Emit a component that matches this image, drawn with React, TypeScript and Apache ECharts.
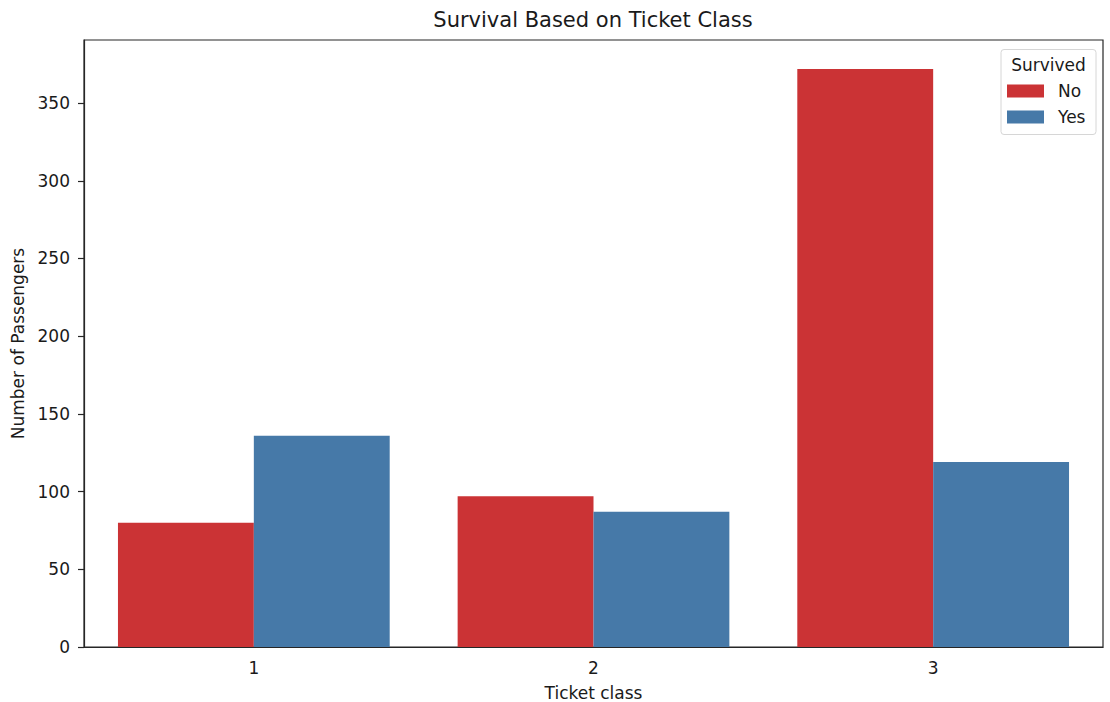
import React, { useEffect, useRef } from "react";
import * as echarts from "echarts";

const categories = ["1", "2", "3"];
const noValues = [80, 97, 372];
const yesValues = [136, 87, 119];
const seriesNames = ["No", "Yes"];
const legendTitle = "Survived";

export default function App() {
  const ref = useRef<HTMLDivElement>(null);
  useEffect(() => {
    const chart = echarts.init(ref.current!, null, { renderer: "svg" });
    const font = "DejaVu Sans";
    const fs = 17;
    chart.setOption({
      animation: false,
      backgroundColor: "#ffffff",
      title: {
        text: "Survival Based on Ticket Class",
        left: 593,
        textAlign: "center",
        top: 9,
        padding: 0,
        textStyle: { fontFamily: font, fontSize: 21, fontWeight: "normal", color: "#1a1a1a" },
      },
      grid: {
        left: 84,
        right: 7,
        top: 40,
        bottom: 55,
        outerBoundsMode: "none",
        containLabel: false,
        show: true,
        borderColor: "#262626",
        borderWidth: 1.2,
        backgroundColor: "transparent",
      },
      legend: {
        orient: "vertical",
        left: 1007,
        top: 82,
        padding: 0,
        itemWidth: 37,
        itemHeight: 13,
        itemGap: 8,
        icon: "rect",
        textStyle: { fontFamily: font, fontSize: fs, color: "#1a1a1a", padding: [0, 0, 0, 9], lineHeight: 18 },
        data: seriesNames,
      },
      graphic: [
        {
          type: "rect",
          shape: { x: 1001, y: 49.5, width: 95, height: 85, r: 3 },
          style: { fill: "rgba(255,255,255,0.8)", stroke: "#d6d6d6", lineWidth: 1 },
          z: 1,
        },
        {
          type: "text",
          x: 1048.5,
          y: 65,
          style: {
            text: legendTitle,
            fontFamily: font,
            fontSize: fs,
            fill: "#1a1a1a",
            textAlign: "center",
            textVerticalAlign: "middle",
          },
          z: 2,
        },
      ],
      xAxis: {
        type: "category",
        data: categories,
        name: "Ticket class",
        nameLocation: "middle",
        nameGap: 37,
        nameTextStyle: { fontFamily: font, fontSize: fs, color: "#1a1a1a" },
        axisLine: { lineStyle: { color: "#262626", width: 1.2 } },
        axisTick: { alignWithLabel: true, length: 6, lineStyle: { color: "#262626", width: 1.2 } },
        axisLabel: { fontFamily: font, fontSize: fs, color: "#1a1a1a", margin: 12 },
      },
      yAxis: {
        type: "value",
        min: 0,
        max: 390.6,
        interval: 50,
        name: "Number of Passengers",
        nameLocation: "middle",
        nameGap: 58,
        nameTextStyle: { fontFamily: font, fontSize: fs, color: "#1a1a1a" },
        axisLine: { show: true, lineStyle: { color: "#262626", width: 1.2 } },
        axisTick: { show: true, length: 6, lineStyle: { color: "#262626", width: 1.2 } },
        axisLabel: { fontFamily: font, fontSize: fs, color: "#1a1a1a", margin: 14, showMaxLabel: false },
        splitLine: { show: false },
      },
      series: [
        {
          name: seriesNames[0],
          type: "bar",
          data: noValues,
          barGap: "0%",
          barCategoryGap: "20%",
          itemStyle: { color: "#cb3335" },
        },
        {
          name: seriesNames[1],
          type: "bar",
          data: yesValues,
          barGap: "0%",
          barCategoryGap: "20%",
          itemStyle: { color: "#4679a8" },
        },
      ],
    });
    return () => chart.dispose();
  }, []);
  return (
    <div
      ref={ref}
      style={{ position: "fixed", left: 0, top: 0, width: 1110, height: 702 }}
    />
  );
}
